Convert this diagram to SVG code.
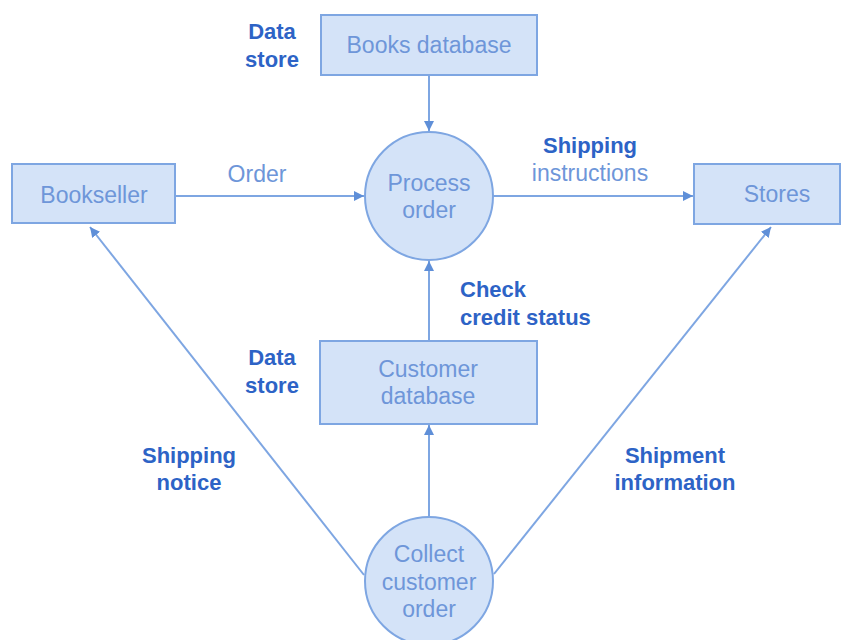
<svg xmlns="http://www.w3.org/2000/svg" width="850" height="640" viewBox="0 0 850 640">
<defs>
<style>
.box{fill:#d4e3f8;stroke:#7ea6e2;stroke-width:2}
.t{font-family:"Liberation Sans",Arial,sans-serif;font-size:23px;fill:#6e96d9;text-anchor:middle}
.b{font-family:"Liberation Sans",Arial,sans-serif;font-size:22px;font-weight:bold;fill:#2d63c6;text-anchor:middle}
.ln{stroke:#7ea6e2;stroke-width:2;fill:none;marker-end:url(#ah)}
</style>
<marker id="ah" viewBox="0 0 10 10" refX="10" refY="5" markerWidth="5" markerHeight="5" orient="auto" markerUnits="strokeWidth">
<path d="M0,0 L10,5 L0,10 z" fill="#5f8fd8"/>
</marker>
</defs>
<rect width="850" height="640" fill="#ffffff"/>
<g id="connectors">
<line class="ln" x1="429" y1="75" x2="429" y2="131"/>
<line class="ln" x1="175" y1="196" x2="364" y2="196"/>
<line class="ln" x1="493" y1="196" x2="693" y2="196"/>
<line class="ln" x1="429" y1="341" x2="429" y2="261"/>
<line class="ln" x1="429" y1="516" x2="429" y2="425"/>
<line class="ln" x1="364" y1="575" x2="90" y2="227"/>
<line class="ln" x1="494" y1="574" x2="771" y2="227"/>
</g>
<g id="books-db">
<rect class="box" x="321" y="15" width="216" height="60"/>
<text class="t" x="429" y="53">Books database</text>
</g>
<g id="label-ds1">
<text class="b" x="272" y="39">Data</text>
<text class="b" x="272" y="67">store</text>
</g>
<g id="bookseller">
<rect class="box" x="12" y="164" width="163" height="59"/>
<text class="t" x="94" y="203">Bookseller</text>
</g>
<g id="process-order">
<circle class="box" cx="429" cy="196" r="64"/>
<text class="t" x="429" y="191">Process</text>
<text class="t" x="429" y="218">order</text>
</g>
<g id="stores">
<rect class="box" x="694" y="164" width="146" height="60"/>
<text class="t" x="777" y="202">Stores</text>
</g>
<g id="customer-db">
<rect class="box" x="320" y="341" width="217" height="83"/>
<text class="t" x="428" y="377">Customer</text>
<text class="t" x="428" y="404">database</text>
</g>
<g id="label-ds2">
<text class="b" x="272" y="365">Data</text>
<text class="b" x="272" y="393">store</text>
</g>
<g id="collect-order">
<circle class="box" cx="429" cy="581" r="64"/>
<text class="t" x="429" y="562">Collect</text>
<text class="t" x="429" y="590">customer</text>
<text class="t" x="429" y="617">order</text>
</g>
<g id="labels">
<text class="t" x="257" y="182">Order</text>
<text class="b" x="590" y="153">Shipping</text>
<text class="t" x="590" y="181">instructions</text>
<text class="b" x="460" y="297" style="text-anchor:start">Check</text>
<text class="b" x="460" y="325" style="text-anchor:start">credit status</text>
<text class="b" x="189" y="463">Shipping</text>
<text class="b" x="189" y="490">notice</text>
<text class="b" x="675" y="463">Shipment</text>
<text class="b" x="675" y="490">information</text>
</g>
</svg>
